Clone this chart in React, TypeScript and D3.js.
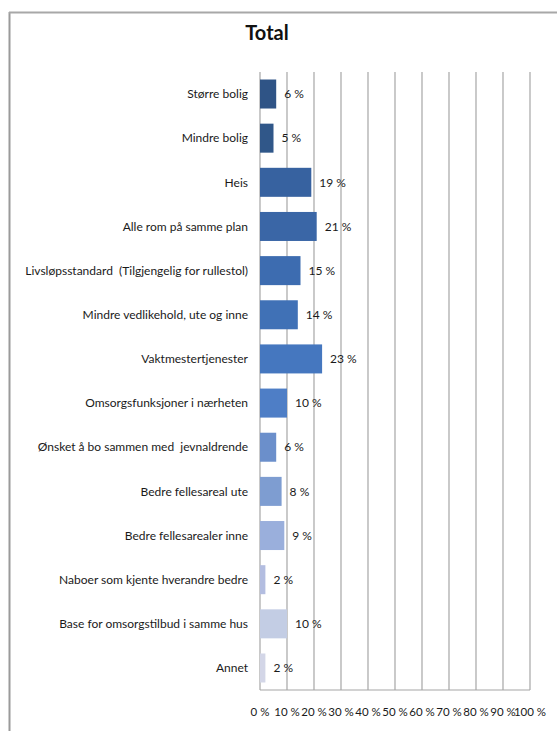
import React from "react";
import * as d3 from "d3";

const categories = [
  "Større bolig",
  "Mindre bolig",
  "Heis",
  "Alle rom på samme plan",
  "Livsløpsstandard  (Tilgjengelig for rullestol)",
  "Mindre vedlikehold, ute og inne",
  "Vaktmestertjenester",
  "Omsorgsfunksjoner i nærheten",
  "Ønsket å bo sammen med  jevnaldrende",
  "Bedre fellesareal ute",
  "Bedre fellesarealer inne",
  "Naboer som kjente hverandre bedre",
  "Base for omsorgstilbud i samme hus",
  "Annet",
];
const values = [6, 5, 19, 21, 15, 14, 23, 10, 6, 8, 9, 2, 10, 2];
const barColors = [
  "#2f5486", "#305789", "#3762a0", "#3a66a6", "#3d6cb0", "#4071b6", "#4577bf",
  "#4e7ec6", "#6b8fcb", "#7e9dd1", "#9aafdc", "#b3bde0", "#c3cde4", "#d3d6e7",
];
const tickValues = [0, 10, 20, 30, 40, 50, 60, 70, 80, 90, 100];

export default function App() {
  const W = 557, H = 731;
  const x = d3.scaleLinear().domain([0, 100]).range([260, 530]);
  const y = d3.scaleBand<string>().domain(categories).range([72, 690]).paddingInner(0.343).paddingOuter(0.17);
  const font = "Lato, 'Open Sans', sans-serif";
  return (
    <svg width={W} height={H} style={{ position: "absolute", left: 0, top: 0, background: "#fff" }}>
      <rect x={0} y={0} width={W} height={H} fill="#fff" />
      <line x1={9.5} y1={12} x2={9.5} y2={H} stroke="#9a9a9a" strokeWidth={2} />
      <line x1={9} y1={12.5} x2={W} y2={12.5} stroke="#a8a8a8" strokeWidth={2} />
      <text x={267} y={40} textAnchor="middle" fontFamily={font} fontWeight="bold" fontSize={20} fill="#111">Total</text>
      {tickValues.map((t) => (
        <line key={"g" + t} x1={x(t)} x2={x(t)} y1={72} y2={690} stroke="#a6a6a6" strokeWidth={1.2} />
      ))}
      <line x1={260} x2={530} y1={690} y2={690} stroke="#a6a6a6" strokeWidth={1.2} />
      {categories.map((c, i) => (
        <g key={c}>
          <rect x={x(0)} y={y(c)!} width={x(values[i]) - x(0)} height={y.bandwidth()} fill={barColors[i]} />
          <text x={248} y={y(c)! + y.bandwidth() / 2} dy="0.35em" textAnchor="end" fontFamily={font} fontSize={12} fill="#1a1a1a" style={{ whiteSpace: "pre" }}>{c}</text>
          <text x={x(values[i]) + 8} y={y(c)! + y.bandwidth() / 2} dy="0.35em" fontFamily={font} fontSize={12} fill="#1a1a1a">{values[i] + " %"}</text>
        </g>
      ))}
      {tickValues.map((t) => (
        <text key={"t" + t} x={x(t)} y={712} dy="0.35em" textAnchor="middle" fontFamily={font} fontSize={11.5} fill="#1a1a1a">{t + " %"}</text>
      ))}
    </svg>
  );
}
